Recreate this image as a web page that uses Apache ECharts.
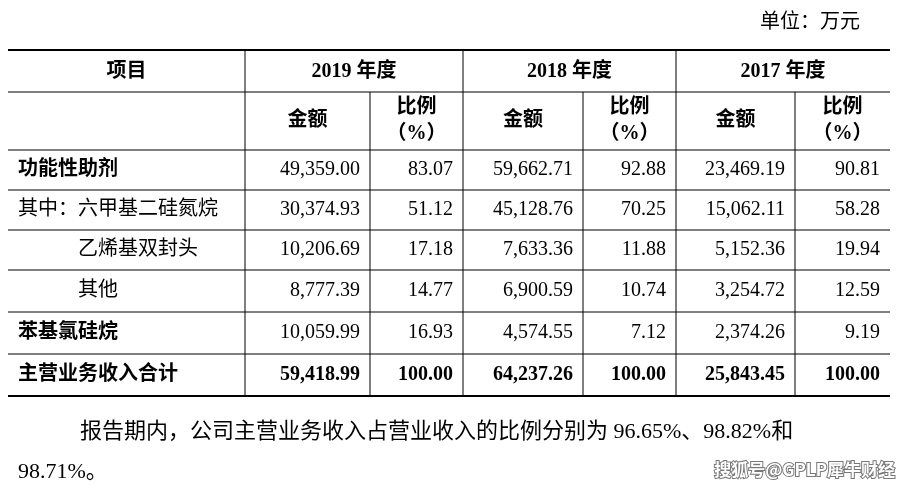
<!DOCTYPE html>
<html><head><meta charset="utf-8">
<script src="https://cdn.jsdelivr.net/npm/echarts@6/dist/echarts.min.js"></script>
<style>html,body{margin:0;padding:0;background:#fff}#c{width:910px;height:490px}</style>
</head><body><div id="c"></div>
<script>
const unitLabel = '单位：万元';
const years = ['2019 年度', '2018 年度', '2017 年度'];
const subHeaders = ['金额', '比例\n（%）'];
const headerItem = '项目';
const rowLabels = ['功能性助剂', '其中：六甲基二硅氮烷', '乙烯基双封头', '其他', '苯基氯硅烷', '主营业务收入合计'];
const rowIndent = [0, 0, 1, 1, 0, 0];
const rowBold = [1, 0, 0, 0, 1, 1];
const values2019 = ['49,359.00', '30,374.93', '10,206.69', '8,777.39', '10,059.99', '59,418.99'];
const ratio2019 = ['83.07', '51.12', '17.18', '14.77', '16.93', '100.00'];
const values2018 = ['59,662.71', '45,128.76', '7,633.36', '6,900.59', '4,574.55', '64,237.26'];
const ratio2018 = ['92.88', '70.25', '11.88', '10.74', '7.12', '100.00'];
const values2017 = ['23,469.19', '15,062.11', '5,152.36', '3,254.72', '2,374.26', '25,843.45'];
const ratio2017 = ['90.81', '58.28', '19.94', '12.59', '9.19', '100.00'];
const footnote1 = '报告期内，公司主营业务收入占营业收入的比例分别为 96.65%、98.82%和';
const footnote2 = '98.71%。';
const watermark = '搜狐号@GPLP犀牛财经';

const cols = [8, 245, 370, 463, 583, 676, 795, 890];
const rowsY = [50, 92, 150, 190, 230, 270, 312, 354, 396];
const FONT = '"Liberation Serif","Noto Sans CJK SC",serif';
const g = [];
function line(x1, y1, x2, y2, w) {
  g.push({type: 'line', shape: {x1, y1, x2, y2}, style: {stroke: '#000', lineWidth: w}});
}
function text(x, y, t, opt) {
  opt = opt || {};
  g.push({type: 'text', x, y, style: {text: t, fill: '#000', font: (opt.bold ? 'bold ' : '') + (opt.size || 20) + 'px ' + FONT,
    textAlign: opt.align || 'left', textVerticalAlign: 'middle', lineHeight: opt.lh || 24}});
}
rowsY.forEach((y, i) => line(cols[0], y, cols[7], y, (i === 0 || i === rowsY.length - 1) ? 2 : 1));
[1, 3, 5].forEach(c => line(cols[c], rowsY[0], cols[c], rowsY[8], 1));
[2, 4, 6].forEach(c => line(cols[c], rowsY[1], cols[c], rowsY[8], 1));
text(860, 23, unitLabel, {align: 'right'});
text((cols[0] + cols[1]) / 2, 72, headerItem, {bold: 1, align: 'center'});
years.forEach((y, i) => {
  const a = cols[1 + 2 * i], b = cols[3 + 2 * i];
  text((a + b) / 2, (rowsY[0] + rowsY[1]) / 2 + 1, y, {bold: 1, align: 'center'});
  subHeaders.forEach((s, j) => {
    text((cols[1 + 2 * i + j] + cols[2 + 2 * i + j]) / 2, (rowsY[1] + rowsY[2]) / 2, s, {bold: 1, align: 'center', lh: 26});
  });
});
const dataCols = [values2019, ratio2019, values2018, ratio2018, values2017, ratio2017];
rowLabels.forEach((lab, r) => {
  const cy = (rowsY[2 + r] + rowsY[3 + r]) / 2;
  text(18 + rowIndent[r] * 60, cy, lab, {bold: rowBold[r]});
  dataCols.forEach((arr, c) => {
    text(cols[2 + c] - 10, cy, arr[r], {bold: r === 5, align: 'right'});
  });
});
text(80, 432, footnote1, {size: 22});
text(18, 472, footnote2, {size: 22});
g.push({type: 'text', x: 895, y: 470, style: {text: watermark, fill: '#fff', stroke: '#777', lineWidth: 2,
  font: 'bold 17px "Noto Sans CJK SC",sans-serif', textAlign: 'right', textVerticalAlign: 'middle'}});
const chart = echarts.init(document.getElementById('c'));
chart.setOption({animation: false, graphic: g});
</script></body></html>
